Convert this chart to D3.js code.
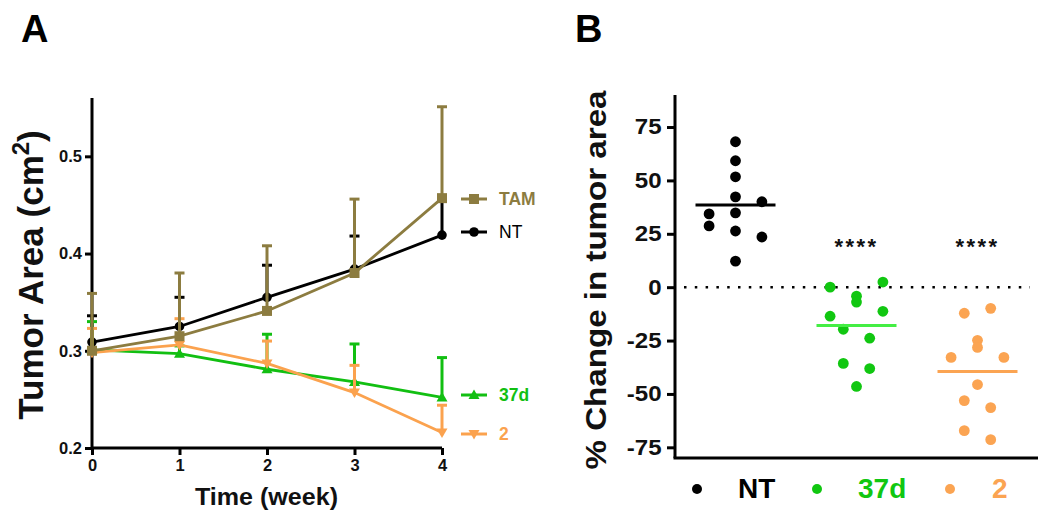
<!DOCTYPE html>
<html><head><meta charset="utf-8">
<script src="https://cdn.jsdelivr.net/npm/d3@7"></script>
<style>body{margin:0;background:#fff}svg{display:block}text{font-family:"Liberation Sans",Arial,sans-serif}</style>
</head><body>
<svg id="c" width="1050" height="521"></svg>
<script>
// ---------- Panel A data ----------
const weeks = [0, 1, 2, 3, 4];
const weekTicks = [0, 1, 2, 3, 4];
const areaTicks = [0.2, 0.3, 0.4, 0.5];
const ntMean = [0.309, 0.325, 0.355, 0.384, 0.419];
const ntErr = [0.336, 0.355, 0.388, 0.418, 0.455];
const tamMean = [0.300, 0.315, 0.341, 0.380, 0.457];
const tamErr = [0.359, 0.380, 0.408, 0.456, 0.551];
const d37Mean = [0.301, 0.297, 0.281, 0.268, 0.252];
const d37Err = [0.330, 0.305, 0.317, 0.307, 0.293];
const c2Mean = [0.298, 0.306, 0.287, 0.257, 0.216];
const c2Err = [0.323, 0.333, 0.310, 0.285, 0.244];

// ---------- Panel B data ----------
const groups = ["NT", "37d", "2"];
const changeTicks = [75, 50, 25, 0, -25, -50, -75];
const ntChange = [68.1, 59.2, 51.7, 42.3, 34.8, 26.3, 12.2, 34.3, 28.7, 40.0, 23.5];
const ntSlot   = [0, 0, 0, 0, 0, 0, 0, -2, -2, 2, 2];
const d37Change = [0.0, 2.4, -4.2, -7.0, -13.6, -11.3, -19.7, -23.9, -35.7, -38.1, -46.5];
const d37Slot   = [-2, 2, 0, 0, -2, 2, -1, 1, -1, 1, 0];
const c2Change = [-12.2, -9.9, -24.9, -28.2, -32.9, -32.9, -45.6, -53.1, -56.4, -67.2, -71.4];
const c2Slot   = [-1, 1, 0, 0, -2, 2, 0, -1, 1, -1, 1];
const groupMeans = [38.5, -17.9, -39.5];
const signif = ["", "****", "****"];

const svg = d3.select("#c");
const F = '"Liberation Sans",Arial,sans-serif';

// ================= Panel A =================
const xA = d3.scaleLinear().domain([0, 4]).range([92, 442]);
const yA = d3.scaleLinear().domain([0.2, 0.56]).range([448, 98]);

const gA = svg.append("g");
const axA = gA.append("g").attr("transform", "translate(0,448)")
  .call(d3.axisBottom(xA).tickValues(weekTicks).tickSize(7).tickPadding(4).tickFormat(d3.format("d")));
const ayA = gA.append("g").attr("transform", "translate(92,0)")
  .call(d3.axisLeft(yA).tickValues(areaTicks).tickSize(7).tickPadding(3).tickFormat(d3.format(".1f")));
[axA, ayA].forEach(a => {
  a.select(".domain").attr("stroke", "#000").attr("stroke-width", 3);
  a.selectAll(".tick line").attr("stroke", "#000").attr("stroke-width", 3);
  a.selectAll(".tick text").attr("font-family", F).attr("font-weight", "bold").attr("font-size", 16.5).attr("fill", "#111");
});
ayA.select(".domain").attr("d", `M0,${yA(0.56)}V${yA(0.2)}`);
axA.select(".domain").attr("d", `M${xA(0)},0H${xA(4)}`);

const seriesA = [
  {name: "NT", mean: ntMean, err: ntErr, color: "#000000", shape: "circle", bold: false},
  {name: "37d", mean: d37Mean, err: d37Err, color: "#12bf12", shape: "up", bold: true},
  {name: "2", mean: c2Mean, err: c2Err, color: "#fba24e", shape: "down", bold: true},
  {name: "TAM", mean: tamMean, err: tamErr, color: "#8c7c40", shape: "square", bold: true}
];
function marker(g, shape, x, y, color) {
  if (shape === "circle") g.append("circle").attr("cx", x).attr("cy", y).attr("r", 4.8).attr("fill", color);
  else if (shape === "square") g.append("rect").attr("x", x - 5).attr("y", y - 5).attr("width", 10).attr("height", 10).attr("fill", color);
  else if (shape === "up") g.append("path").attr("d", `M${x},${y-5.5}L${x+5.5},${y+4}L${x-5.5},${y+4}Z`).attr("fill", color);
  else g.append("path").attr("d", `M${x},${y+5.5}L${x+5.5},${y-4}L${x-5.5},${y-4}Z`).attr("fill", color);
}
const line = d3.line().x((d, i) => xA(weeks[i])).y(d => yA(d));
seriesA.forEach(s => {
  const g = gA.append("g");
  weeks.forEach((w, i) => {
    g.append("line").attr("x1", xA(w)).attr("x2", xA(w)).attr("y1", yA(s.mean[i])).attr("y2", yA(s.err[i]))
      .attr("stroke", s.color).attr("stroke-width", 3);
    g.append("line").attr("x1", xA(w) - 5).attr("x2", xA(w) + 5).attr("y1", yA(s.err[i])).attr("y2", yA(s.err[i]))
      .attr("stroke", s.color).attr("stroke-width", 3);
  });
  g.append("path").attr("d", line(s.mean)).attr("fill", "none").attr("stroke", s.color).attr("stroke-width", 2.8);
  weeks.forEach((w, i) => marker(g, s.shape, xA(w), yA(s.mean[i]), s.color));
});

// legend A
const legA = [
  {s: seriesA[3], y: 199}, {s: seriesA[0], y: 232}, {s: seriesA[1], y: 395}, {s: seriesA[2], y: 434}
];
legA.forEach(({s, y}) => {
  gA.append("line").attr("x1", 461).attr("x2", 487).attr("y1", y).attr("y2", y).attr("stroke", s.color).attr("stroke-width", 3);
  marker(gA, s.shape, 474, y, s.color);
  gA.append("text").attr("x", 499).attr("y", y + 6).attr("font-size", 17.5).attr("font-weight", s.bold ? "bold" : "normal")
    .attr("fill", s.color).text(s.name);
});

gA.append("text").attr("transform", "translate(43,275) rotate(-90)").attr("text-anchor", "middle")
  .attr("font-size", 35).attr("font-weight", "bold").attr("fill", "#111")
  .html('Tumor Area (cm<tspan dy="-14" font-size="24">2</tspan><tspan dy="14">)</tspan>');
gA.append("text").attr("x", 195).attr("y", 505).attr("font-size", 23)
  .attr("textLength", 143).attr("lengthAdjust", "spacingAndGlyphs")
  .attr("font-weight", "bold").attr("fill", "#111").text("Time (week)");
gA.append("text").attr("x", 21).attr("y", 42).attr("font-size", 38).attr("font-weight", "bold").text("A");

// ================= Panel B =================
const xB = d3.scaleBand().domain(groups).range([675, 1038]);
const yB = d3.scaleLinear().domain([-80, 90]).range([458, 95]);
const gB = svg.append("g");
const ayB = gB.append("g").attr("transform", "translate(675,0)")
  .call(d3.axisLeft(yB).tickValues(changeTicks).tickSize(8).tickPadding(4).tickFormat(d => String(d)));
ayB.select(".domain").attr("d", `M0,${yB(90)}V${yB(-80)}`).attr("stroke", "#000").attr("stroke-width", 3);
ayB.selectAll(".tick line").attr("stroke", "#000").attr("stroke-width", 3);
ayB.selectAll(".tick text").attr("font-family", F).attr("font-weight", "bold").attr("font-size", 21.5).attr("fill", "#111")
  .attr("transform", "scale(1.12,1)");
gB.append("line").attr("x1", 673.5).attr("x2", 1038).attr("y1", yB(-80)).attr("y2", yB(-80)).attr("stroke", "#000").attr("stroke-width", 3);

gB.append("line").attr("x1", 684).attr("x2", 1030).attr("y1", yB(0)).attr("y2", yB(0))
  .attr("stroke", "#000").attr("stroke-width", 2.5).attr("stroke-dasharray", "2.5,8.3").attr("stroke-linecap", "butt");

const colorsB = ["#000000", "#11c711", "#fba452"];
const meanColors = ["#000000", "#44ee44", "#fba452"];
const dataB = [ntChange, d37Change, c2Change];
const slotsB = [ntSlot, d37Slot, c2Slot];
const slotW = 13.2;
groups.forEach((gname, gi) => {
  const cx = xB(gname) + xB.bandwidth() / 2;
  dataB[gi].forEach((v, i) => {
    gB.append("circle").attr("cx", cx + slotsB[gi][i] * slotW).attr("cy", yB(v)).attr("r", 5.4).attr("fill", colorsB[gi]);
  });
  gB.append("line").attr("x1", cx - 40).attr("x2", cx + 40).attr("y1", yB(groupMeans[gi])).attr("y2", yB(groupMeans[gi]))
    .attr("stroke", meanColors[gi]).attr("stroke-width", 3);
  if (signif[gi]) gB.append("text").attr("x", cx).attr("y", 254).attr("text-anchor", "middle")
    .attr("font-size", 22).attr("letter-spacing", 2.5).attr("font-weight", "bold").attr("fill", "#111").text(signif[gi]);
});

// legend B
const legBx = [697, 817, 950];
const legTx = [738, 858, 992];
groups.forEach((gname, gi) => {
  gB.append("circle").attr("cx", legBx[gi]).attr("cy", 489).attr("r", 5).attr("fill", colorsB[gi]);
  gB.append("text").attr("x", legTx[gi]).attr("y", 498).attr("font-size", 28).attr("font-weight", "bold")
    .attr("fill", colorsB[gi]).text(gname);
});

gB.append("text").attr("transform", "translate(606,280) rotate(-90)").attr("text-anchor", "middle")
  .attr("font-size", 29).attr("textLength", 379).attr("lengthAdjust", "spacingAndGlyphs")
  .attr("font-weight", "bold").attr("fill", "#111").text("% Change in tumor area");
gB.append("text").attr("x", 575).attr("y", 42).attr("font-size", 38).attr("font-weight", "bold").text("B");
</script>
</body></html>
